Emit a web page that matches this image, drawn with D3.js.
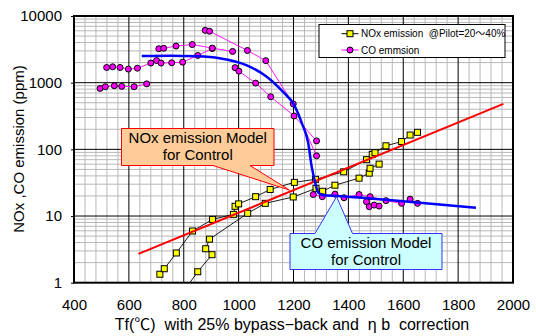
<!DOCTYPE html>
<html>
<head>
<meta charset="utf-8">
<script src="https://cdn.jsdelivr.net/npm/d3@7"></script>
<style>
  body { margin: 0; background: #fff; }
  text { font-family: "Liberation Sans", Arial, "Noto Sans CJK JP", sans-serif; fill: #000; white-space: pre; }
</style>
</head>
<body>
<div id="main"></div>
<script>
// tick labels
const xTicks = [400, 600, 800, 1000, 1200, 1400, 1600, 1800, 2000];
const yTicks = [1, 10, 100, 1000, 10000];

// NOx emission, two test runs  [Tf, ppm]
const noxRunA = [[713, 1.34], [729, 1.62], [773, 2.79], [832, 5.96], [905, 8.9], [981, 10.6],
  [987, 14], [1000, 15.2], [1062, 19.5], [1115, 25], [1203, 32], [1280, 35.5], [1383, 46],
  [1466, 70], [1487, 84], [1497, 89], [1537, 113], [1594, 131], [1625, 164], [1652, 180]];
const noxRunB = [[805, 0.8], [851, 1.46], [903, 2.63], [880, 3.23], [894, 4.5], [1033, 11],
  [1097, 15.5], [1199, 19.3], [1282, 26], [1306, 23.5], [1351, 29], [1439, 37], [1476, 44],
  [1479, 52], [1512, 60]];

// CO emission runs  [Tf, ppm]
const coRun1 = [[495, 820], [514, 870], [547, 900], [574, 880], [619, 870], [665, 960]];
const coRun2 = [[519, 1690], [541, 1730], [568, 1690], [598, 1600], [631, 1650], [680, 1970],
  [701, 2150], [717, 1970], [756, 1990], [796, 2030], [851, 2560], [904, 3250]];
const coRun3 = [[709, 3230], [727, 3280], [772, 3540], [831, 3730], [904, 3300], [978, 2940]];
const coRun4 = [[878, 6100], [894, 5900], [1032, 3040], [1099, 2140], [1199, 480], [1284, 80]];
const coRun5 = [[987, 1680], [1001, 1490], [1062, 985], [1117, 615], [1202, 317], [1284, 134]];
const coRun6 = [[1272, 21], [1305, 19.5], [1351, 21.3], [1384, 18.8], [1439, 21], [1479, 19.5],
  [1537, 17], [1594, 15.5], [1625, 17.9], [1652, 15.5]];
const coRun7 = [[1466, 16.4], [1476, 13.8], [1494, 14.6], [1512, 14.1]];

// control models
const noxModel = [[635, 2.7], [1965, 480]];
const coModel = [[647, 2510], [750, 2540], [850, 2490], [930, 2330], [1030, 1820], [1100, 1250],
  [1163, 720], [1200, 480], [1230, 250], [1254, 122], [1266, 56], [1278, 33], [1290, 22.5],
  [1310, 20.5], [1360, 20], [1470, 18.5], [1590, 16.8], [1660, 15.8], [1865, 13.3]];

// callout anchor points  [Tf, ppm]
const noxTip = [1185, 24.5];
const coTip = [1357, 19.5];

const W = 536, H = 336;
const plot = { left: 74, right: 513, top: 16, bottom: 282.7 };

const svg = d3.select("#main").append("svg").attr("width", W).attr("height", H);

const x = d3.scaleLinear().domain([400, 2000]).range([plot.left, plot.right]);
const y = d3.scaleLog().domain([1, 10000]).range([plot.bottom, plot.top]);

svg.append("defs").append("clipPath").attr("id", "clip")
  .append("rect")
  .attr("x", plot.left).attr("y", plot.top)
  .attr("width", plot.right - plot.left).attr("height", plot.bottom - plot.top);

// grid
const grid = svg.append("g");
const minorX = d3.range(440, 2000, 40).filter(v => v % 200 !== 0);
grid.selectAll(".mx").data(minorX).join("line")
  .attr("x1", d => x(d)).attr("x2", d => x(d))
  .attr("y1", plot.top).attr("y2", plot.bottom)
  .attr("stroke", "#b8b8b8").attr("stroke-width", 1);
const minorY = y.ticks().filter(v => !yTicks.includes(v));
grid.selectAll(".my").data(minorY).join("line")
  .attr("x1", plot.left).attr("x2", plot.right)
  .attr("y1", d => y(d)).attr("y2", d => y(d))
  .attr("stroke", "#b8b8b8").attr("stroke-width", 1);
grid.selectAll(".Mx").data(xTicks.slice(1, -1)).join("line")
  .attr("x1", d => x(d)).attr("x2", d => x(d))
  .attr("y1", plot.top).attr("y2", plot.bottom)
  .attr("stroke", "#000").attr("stroke-width", 1);
grid.selectAll(".My").data(yTicks.slice(1, -1)).join("line")
  .attr("x1", plot.left).attr("x2", plot.right)
  .attr("y1", d => y(d)).attr("y2", d => y(d))
  .attr("stroke", "#000").attr("stroke-width", 1);

// axes labels
const xAxis = svg.append("g").attr("transform", `translate(0,${plot.bottom})`)
  .call(d3.axisBottom(x).tickValues(xTicks).tickSize(0).tickPadding(17).tickFormat(d3.format("d")));
xAxis.select(".domain").remove();
xAxis.selectAll("text").style("font-size", "15px").attr("fill", "#000");

const yAxis = svg.append("g").attr("transform", `translate(${plot.left},0)`)
  .call(d3.axisLeft(y).tickValues(yTicks).tickSize(3).tickPadding(9).tickFormat(d3.format("d")));
yAxis.select(".domain").remove();
yAxis.selectAll("text").style("font-size", "15px").attr("fill", "#000");

svg.append("text")
  .attr("x", 292).attr("y", 330)
  .attr("text-anchor", "middle")
  .style("font-size", "16px")
  .text("Tf(℃)  with 25% bypass\u2212back and  η b  correction");

svg.append("text")
  .attr("transform", "translate(24,149) rotate(-90)")
  .attr("text-anchor", "middle")
  .style("font-size", "15px")
  .text("NOx ,CO emission (ppm)");

const body = svg.append("g").attr("clip-path", "url(#clip)");
const line = d3.line().x(d => x(d[0])).y(d => y(d[1]));

// NOx runs
[noxRunA, noxRunB].forEach(run => {
  body.append("path").datum(run).attr("d", line)
    .attr("fill", "none").attr("stroke", "#000").attr("stroke-width", 0.9);
});
[noxRunA, noxRunB].forEach(run => {
  body.selectAll(null).data(run).join("rect")
    .attr("x", d => x(d[0]) - 3).attr("y", d => y(d[1]) - 3)
    .attr("width", 6).attr("height", 6)
    .attr("fill", "#ffff00").attr("stroke", "#000").attr("stroke-width", 1);
});

// CO runs
const coRuns = [coRun1, coRun2, coRun3, coRun4, coRun5, coRun6, coRun7];
coRuns.forEach(run => {
  body.append("path").datum(run).attr("d", line)
    .attr("fill", "none").attr("stroke", "#ff00ff").attr("stroke-width", 0.9);
});
coRuns.forEach(run => {
  body.selectAll(null).data(run).join("circle")
    .attr("cx", d => x(d[0])).attr("cy", d => y(d[1])).attr("r", 3)
    .attr("fill", "#ff00ff").attr("stroke", "#000").attr("stroke-width", 1);
});

// models
body.append("path").datum(noxModel).attr("d", line)
  .attr("fill", "none").attr("stroke", "#ff0000").attr("stroke-width", 2);
body.append("path").datum(coModel).attr("d", line.curve(d3.curveMonotoneX))
  .attr("fill", "none").attr("stroke", "#0000ff").attr("stroke-width", 2.5);

// plot frame
svg.append("rect")
  .attr("x", plot.left).attr("y", plot.top)
  .attr("width", plot.right - plot.left).attr("height", plot.bottom - plot.top)
  .attr("fill", "none").attr("stroke", "#000").attr("stroke-width", 2);

// legend
const lg = svg.append("g");
lg.append("rect").attr("x", 319).attr("y", 24.5).attr("width", 186).attr("height", 33)
  .attr("fill", "#fff").attr("stroke", "#000").attr("stroke-width", 1);
const legendItems = [
  { label: "NOx emission  @Pilot=20～40%", color: "#000", fill: "#ffff00", shape: "square", y: 33.7 },
  { label: "CO emmsion", color: "#ff00ff", fill: "#ff00ff", shape: "circle", y: 50 }
];
legendItems.forEach(it => {
  lg.append("line").attr("x1", 341.5).attr("x2", 358.5).attr("y1", it.y).attr("y2", it.y)
    .attr("stroke", it.color).attr("stroke-width", 1);
  if (it.shape === "square") {
    lg.append("rect").attr("x", 347).attr("y", it.y - 3).attr("width", 6).attr("height", 6)
      .attr("fill", it.fill).attr("stroke", "#000");
  } else {
    lg.append("circle").attr("cx", 350).attr("cy", it.y).attr("r", 3)
      .attr("fill", it.fill).attr("stroke", "#000");
  }
  lg.append("text").attr("x", 361).attr("y", it.y + 3.5)
    .style("font-size", "10px").text(it.label);
});

// callouts
function callout(box, base, tip, side, fill, stroke, lines) {
  const tx = x(tip[0]), ty = y(tip[1]);
  let d;
  if (side === "bottom") {
    d = `M${box.x0},${box.y0}H${box.x1}V${box.y1}H${base[1]}L${tx},${ty}L${base[0]},${box.y1}H${box.x0}Z`;
  } else {
    d = `M${box.x0},${box.y0}H${base[0]}L${tx},${ty}L${base[1]},${box.y0}H${box.x1}V${box.y1}H${box.x0}Z`;
  }
  svg.append("path").attr("d", d).attr("fill", fill).attr("stroke", stroke).attr("stroke-width", 1);
  const cx = (box.x0 + box.x1) / 2;
  lines.forEach((t, i) => {
    svg.append("text").attr("x", cx).attr("y", box.y0 + 14 + i * 17)
      .attr("text-anchor", "middle").style("font-size", "15px").text(t);
  });
}
callout({ x0: 121.5, y0: 128.5, x1: 274, y1: 165.5 }, [213, 250], noxTip, "bottom",
  "#ffcc99", "#ff0000", ["NOx emission Model", "for Control"]);
callout({ x0: 290, y0: 233.5, x1: 442, y1: 269.5 }, [315, 352.5], coTip, "top",
  "#ccffff", "#3333ff", ["CO emission Model", "for Control"]);
</script>
</body>
</html>
